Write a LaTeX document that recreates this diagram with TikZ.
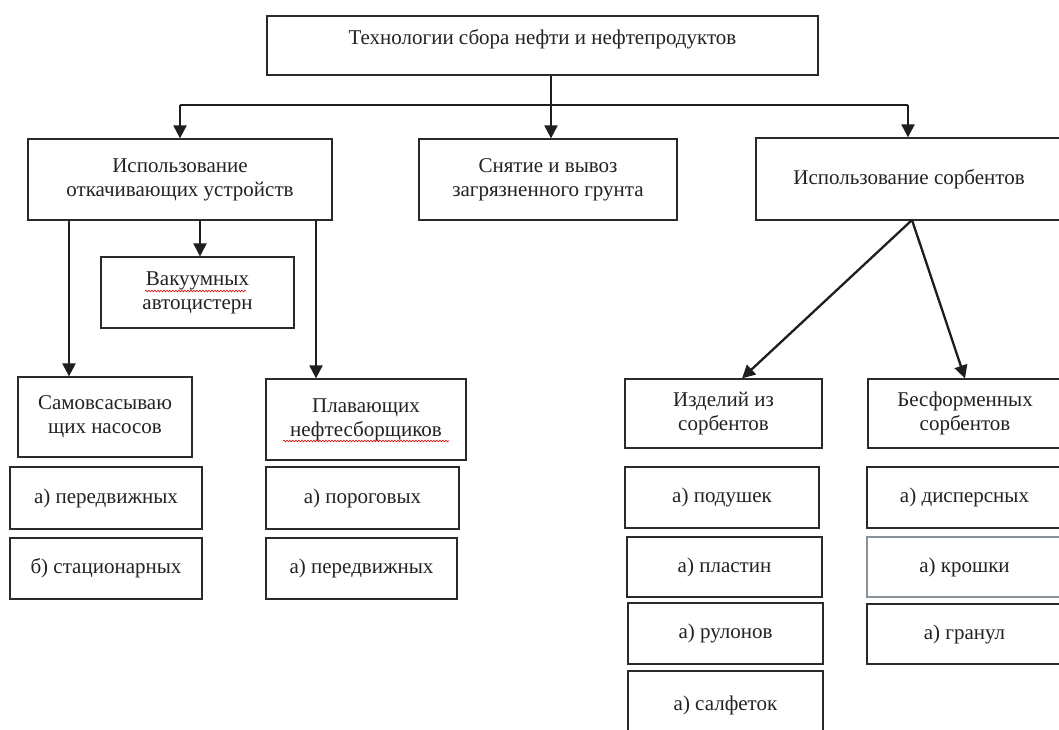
\documentclass[tikz,border=0pt]{standalone}
\usepackage{fontspec}
\setmainfont{Liberation Serif}
\usetikzlibrary{arrows.meta,decorations.pathmorphing}

\definecolor{boxline}{HTML}{2A2A2A}
\definecolor{arrline}{HTML}{1E1E1E}
\definecolor{txt}{HTML}{222222}
\definecolor{softline}{HTML}{8A929C}

% rectangle node given by its corners: name, x1, y1, x2, y2, extra style, text
\newcommand\rbox[7]{%
  \node[box,#6,minimum width={(#4-#2)*1pt},minimum height={(#5-#3)*1pt}]
    (#1) at ({(#2+#4)/2},{(#3+#5)/2}) {#7};}

\begin{document}
\begin{tikzpicture}[x=1pt,y=-1pt,
  box/.style={draw=boxline,line width=1.3pt,inner sep=0pt,align=center,
    text=txt,font=\fontsize{21}{24}\selectfont},
  arr/.style={draw=arrline,line width=2.3pt,-{Triangle[length=13pt,width=13pt]}},
  link/.style={draw=arrline,line width=2.3pt},
  spell/.style={draw=red!85!black,line width=0.6pt,decorate,
    decoration={snake,amplitude=0.8pt,segment length=3pt}}]

\useasboundingbox (0,0) rectangle (1059,729);
\fill[white] (0,0) rectangle (1059,729);
\clip (0,0) rectangle (1059,729);

% top level
\rbox{top}{267}{16}{818}{75}{}{Технологии сбора нефти и нефтепродуктов\\[-6pt] \mbox{}}

% second level
\rbox{otk}{28}{139}{332}{220}{}{Использование\\откачивающих устройств}
\rbox{snyat}{419}{139}{677}{220}{}{Снятие и вывоз\\загрязненного грунта}
\rbox{sorb}{756}{138}{1062}{220}{}{Использование сорбентов}

% pumping devices
\rbox{vak}{101}{257}{294}{328}{}{Вакуумных\\автоцистерн}
\rbox{samo}{18}{377}{192}{457}{}{Самовсасываю\\щих насосов}
\rbox{plav}{266}{379}{466}{460}{}{Плавающих\\нефтесборщиков}
\rbox{samoA}{10}{467}{202}{529}{}{а) передвижных}
\rbox{samoB}{10}{538}{202}{599}{}{б) стационарных}
\rbox{plavA}{266}{467}{459}{529}{}{а) пороговых}
\rbox{plavB}{266}{538}{457}{599}{}{а) передвижных}

% sorbents
\rbox{izd}{625}{379}{822}{448}{}{Изделий из\\сорбентов}
\rbox{besf}{868}{379}{1062}{448}{}{Бесформенных\\сорбентов}
\rbox{izdA}{625}{467}{819}{528}{}{а) подушек}
\rbox{izdB}{627}{537}{822}{597}{}{а) пластин}
\rbox{izdC}{628}{603}{823}{664}{}{а) рулонов}
\rbox{izdD}{628}{671}{823}{740}{}{а) салфеток}
\rbox{besfA}{867}{467}{1062}{528}{}{а) дисперсных}
\rbox{besfB}{867}{537}{1062}{597}{draw=softline}{а) крошки}
\rbox{besfC}{867}{604}{1062}{664}{}{а) гранул}

% branching points
\coordinate (hub) at (551,105);
\coordinate (bL) at (180,105);
\coordinate (bR) at (908,105);
\coordinate (xS) at (69,0);
\coordinate (xV) at (200,0);
\coordinate (xP) at (316,0);
\coordinate (apex) at (912,220);
\coordinate (xI) at (742,0);
\coordinate (xB) at (965,0);

% connectors
\draw[link] (top.south -| hub) -- (hub);
\draw[link] (bL) -- (bR);
\draw[arr] (hub) -- (snyat.north -| hub);
\draw[arr] (bL) -- (otk.north -| bL);
\draw[arr] (bR) -- (sorb.north -| bR);

\draw[arr] (otk.south -| xS) -- (samo.north -| xS);
\draw[arr] (otk.south -| xV) -- (vak.north -| xV);
\draw[arr] (otk.south -| xP) -- (plav.north -| xP);

\draw[arr] (apex) -- (izd.north -| xI);
\draw[arr] (apex) -- (besf.north -| xB);

% spell-check marks under two words
\draw[spell] (145,291) -- (246,291);
\draw[spell] (283,441) -- (449,441);
\end{tikzpicture}
\end{document}
